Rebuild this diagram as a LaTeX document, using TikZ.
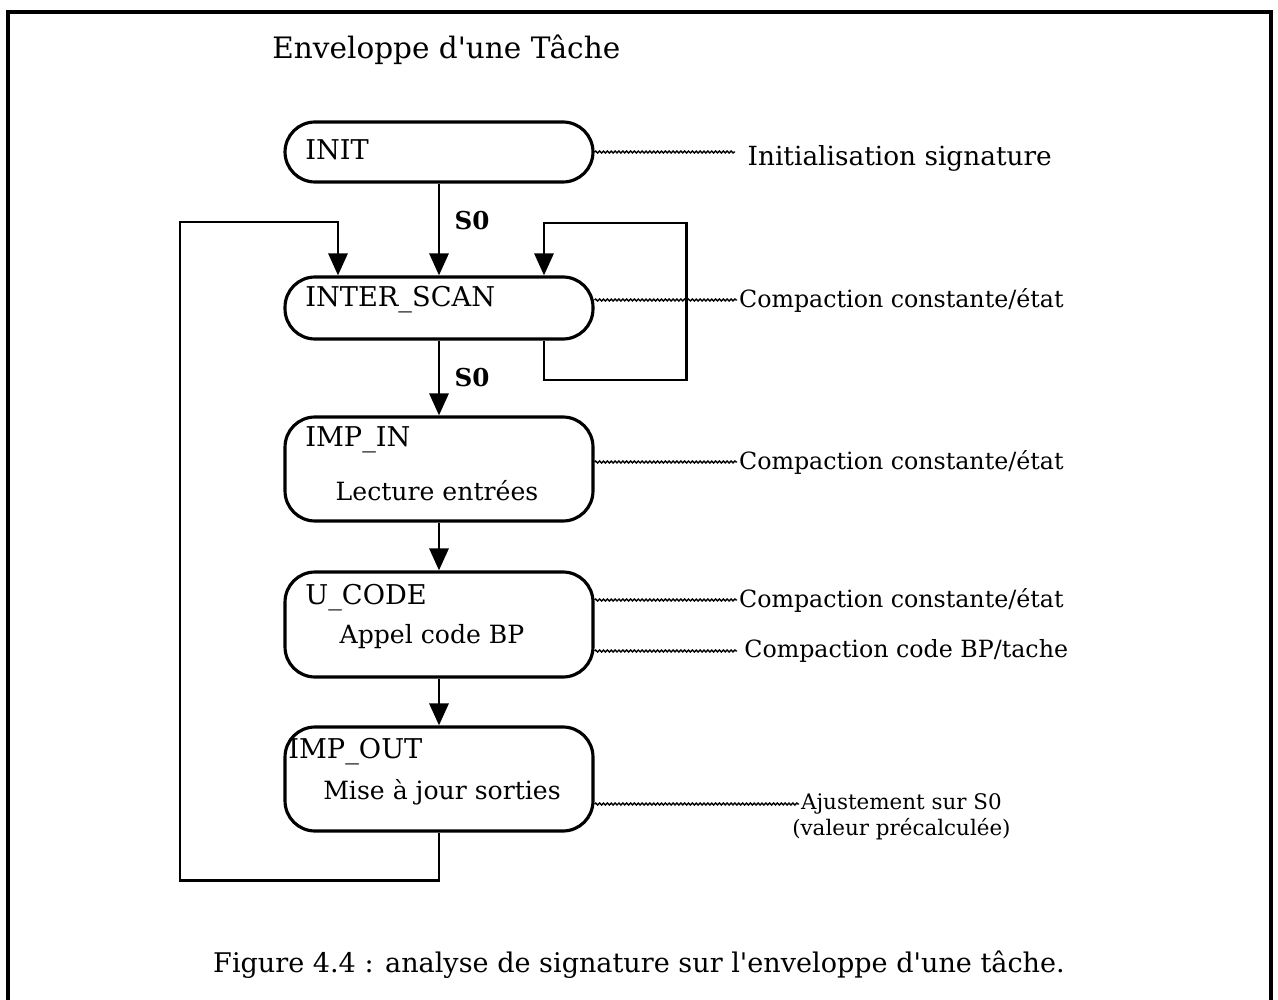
\documentclass[tikz,border=0pt]{standalone}
\usepackage{fontspec}
\setmainfont{DejaVu Serif}
\usetikzlibrary{arrows.meta,decorations.pathmorphing}
\begin{document}
\begin{tikzpicture}[x=0.02cm,y=-0.02cm,
  box/.style={draw, line width=1.8pt, rounded corners=0.6cm, minimum width=6.16cm, inner sep=0pt},
  arr/.style={line width=1.7pt, -{Triangle[length=0.44cm,width=0.38cm]}},
  wave/.style={line width=0.8pt, decorate, decoration={snake, amplitude=0.55pt, segment length=2.2pt}},
  boxtxt/.style={font=\fontsize{15.5}{18}\selectfont, inner sep=0pt},
  boxsub/.style={font=\fontsize{14.3}{17}\selectfont, inner sep=0pt},
  slbl/.style={font=\fontsize{14}{16}\bfseries\selectfont, inner sep=0pt},
  lbl/.style={font=\fontsize{13.5}{16}\selectfont, inner sep=1pt, anchor=west},
  ttl/.style={font=\fontsize{16.8}{20}\selectfont, inner sep=0pt},
  capt/.style={font=\fontsize{15.4}{18}\selectfont, inner sep=0pt}]
\useasboundingbox (0,0) rectangle (1278,1000);
% frame
\draw[line width=1.8pt] (8,1000) -- (8,12) -- (1271,12) -- (1271,1000);
\node[ttl, anchor=west] (title) at (272,50) {Enveloppe d\textquotesingle une Tâche};
% boxes
\node[box, minimum height=1.2cm] (init) at (439,152) {};
\node[box, minimum height=1.24cm] (scan) at (439,308) {};
\node[box, minimum height=2.08cm] (impin) at (439,469) {};
\node[box, minimum height=2.1cm] (ucode) at (439,624.5) {};
\node[box, minimum height=2.08cm] (impout) at (439,779) {};
% box texts
\node[boxtxt, anchor=west] (tinit) at (305,150) {INIT};
\node[boxtxt, anchor=west] (tscan) at (305,300) {INTER\_SCAN};
\node[boxtxt, anchor=west] (timpin) at (305,440) {IMP\_IN};
\node[boxsub] (timpin2) at (437,491) {Lecture entrées};
\node[boxtxt, anchor=west] (tucode) at (305,598) {U\_CODE};
\node[boxsub] (tucode2) at (432,637) {Appel code BP};
\node[boxtxt, anchor=west] (timpout) at (288,752) {IMP\_OUT};
\node[boxsub] (timpout2) at (442,792) {Mise à jour sorties};
% main arrows
\draw[arr] (init.south) -- node[slbl, right=8pt, pos=0.4] (s1) {S0} (scan.north);
\draw[arr] (scan.south) -- node[slbl, right=8pt, pos=0.5] (s2) {S0} (impin.north);
\draw[arr] (impin.south) -- (ucode.north);
\draw[arr] (ucode.south) -- (impout.north);
% outer loop
\coordinate (lb) at (180,880);
\coordinate (lt) at (180,222);
\draw[arr] (impout.south) |- (lb) -- (lt) -| (scan.north -| 338,0);
% self loop
\coordinate (sb) at (686,380);
\coordinate (st) at (686,223);
\draw[arr] (scan.south -| 544,0) |- (sb) -- (st) -| (scan.north -| 544,0);
% labels
\node[lbl, inner xsep=7pt, font=\fontsize{15}{18}\selectfont] (l1) at (735,158) {Initialisation signature};
\node[lbl] (l2) at (737,300) {Compaction constante/état};
\node[lbl] (l3) at (737,462) {Compaction constante/état};
\node[lbl] (l4) at (737,600) {Compaction constante/état};
\node[lbl, inner xsep=4pt] (l5) at (737,651) {Compaction code BP/tache};
\node[lbl, font=\fontsize{12.2}{14}\selectfont] (l6) at (799,804) {Ajustement sur S0};
\node[lbl, anchor=north, font=\fontsize{12.2}{14}\selectfont] (l7) at (l6.south) {(valeur précalculée)};
% wavy connectors
\draw[wave] (init.east) -- (init.east -| l1.west);
\draw[wave] (scan.east |- l2.west) -- (l2.west);
\draw[wave] (impin.east |- l3.west) -- (l3.west);
\draw[wave] (ucode.east |- l4.west) -- (l4.west);
\draw[wave] (ucode.east |- l5.west) -- (l5.west);
\draw[wave] (impout.east |- l6.west) -- (l6.west);
% caption
\node[capt] (cap) at (639,965) {Figure 4.4 : analyse de signature sur l\textquotesingle enveloppe d\textquotesingle une tâche.};
\end{tikzpicture}
\end{document}
